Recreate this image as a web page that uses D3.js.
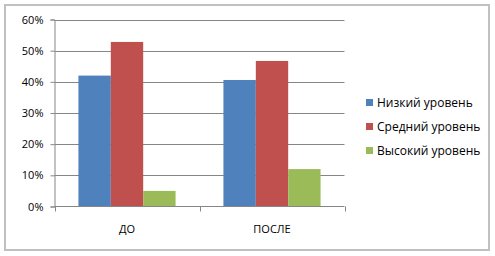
<!DOCTYPE html>
<html>
<head>
<meta charset="utf-8">
<script src="https://cdn.jsdelivr.net/npm/d3@7"></script>
<style>
  body { margin: 0; background: #fff; }
  svg text { font-family: "Open Sans", "DejaVu Sans", sans-serif; font-size: 10px; fill: #000; }
</style>
</head>
<body>
<svg id="chart" width="495" height="256"></svg>
<script>
// данные
var categories = ["ДО", "ПОСЛЕ"];
var seriesNames = ["Низкий уровень", "Средний уровень", "Высокий уровень"];
var seriesColors = ["#4F81BD", "#C0504D", "#9BBB59"];
var lowValues = [0.42, 0.406];
var midValues = [0.528, 0.467];
var highValues = [0.05, 0.12];
var yTicks = [0, 0.1, 0.2, 0.3, 0.4, 0.5, 0.6];

var values = [lowValues, midValues, highValues];

var svg = d3.select("#chart");

// рамка
svg.append("rect")
  .attr("x", 5).attr("y", 5)
  .attr("width", 484).attr("height", 245)
  .attr("fill", "#fff")
  .attr("stroke", "#c0c0c0")
  .attr("stroke-width", 2);

var plot = { left: 54.5, right: 344.5, top: 19.5, bottom: 206.5 };

var x = d3.scaleBand()
  .domain(categories)
  .range([plot.left, plot.right])
  .paddingInner(0.33)
  .paddingOuter(0.165);

var xs = d3.scaleBand()
  .domain(d3.range(seriesNames.length))
  .range([0, x.bandwidth()]);

var y = d3.scaleLinear()
  .domain([0, 0.6])
  .range([plot.bottom, plot.top]);

// сетка
svg.append("g")
  .selectAll("line")
  .data(yTicks.slice(1))
  .enter().append("line")
  .attr("x1", plot.left).attr("x2", plot.right)
  .attr("y1", d => Math.round(y(d)) + 0.5)
  .attr("y2", d => Math.round(y(d)) + 0.5)
  .attr("stroke", "#868686");

// столбцы
var groups = svg.append("g")
  .selectAll("g")
  .data(categories)
  .enter().append("g")
  .attr("transform", d => "translate(" + x(d) + ",0)");

groups.selectAll("rect")
  .data((d, ci) => values.map((s, si) => ({ si: si, v: s[ci] })))
  .enter().append("rect")
  .attr("x", d => xs(d.si))
  .attr("y", d => y(d.v))
  .attr("width", xs.bandwidth())
  .attr("height", d => plot.bottom - y(d.v))
  .attr("fill", d => seriesColors[d.si]);

// ось Y
var yAxis = svg.append("g")
  .attr("transform", "translate(" + plot.left + ",0)")
  .call(d3.axisLeft(y).tickValues(yTicks).tickFormat(d3.format(".0%")).tickSize(4).tickPadding(7));
yAxis.select(".domain").attr("stroke", "#868686");
yAxis.selectAll(".tick line").attr("stroke", "#868686");
yAxis.selectAll("text").style("font-size", "11px");

// ось X
var xAxis = svg.append("g")
  .attr("transform", "translate(0," + plot.bottom + ")");
xAxis.append("line")
  .attr("x1", plot.left).attr("x2", plot.right)
  .attr("stroke", "#868686");
var xEdges = [plot.left].concat(categories.map(c => x(c) + x.bandwidth() + x.step() * x.paddingInner() / 2));
xEdges[xEdges.length - 1] = plot.right;
xAxis.selectAll(".xt")
  .data(xEdges)
  .enter().append("line")
  .attr("x1", d => Math.round(d) + 0.5).attr("x2", d => Math.round(d) + 0.5)
  .attr("y1", 0).attr("y2", 5)
  .attr("stroke", "#868686");
xAxis.selectAll("text")
  .data(categories)
  .enter().append("text")
  .attr("x", d => x(d) + x.bandwidth() / 2)
  .attr("y", 26)
  .attr("text-anchor", "middle")
  .style("font-size", "11px")
  .text(d => d);

// легенда
var legend = svg.append("g")
  .attr("transform", "translate(366,99)");
var items = legend.selectAll("g")
  .data(seriesNames)
  .enter().append("g")
  .attr("transform", (d, i) => "translate(0," + i * 24 + ")");
items.append("rect")
  .attr("width", 7).attr("height", 7)
  .attr("fill", (d, i) => seriesColors[i]);
items.append("text")
  .attr("x", 11).attr("y", 4)
  .attr("dy", "0.35em")
  .style("font-size", "12px")
  .text(d => d);
</script>
</body>
</html>
